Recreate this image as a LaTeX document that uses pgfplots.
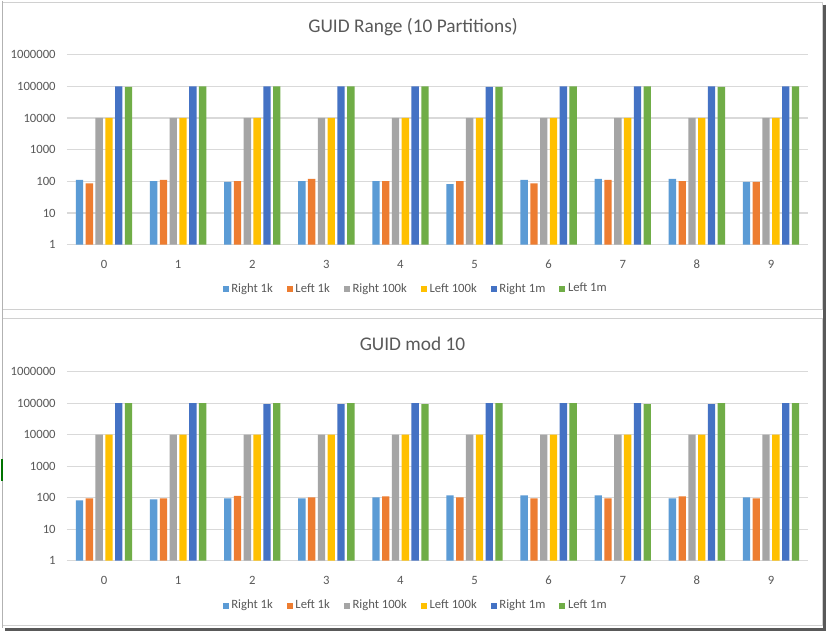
\documentclass[border=0pt]{standalone}
\usepackage{pgfplots}
\pgfplotsset{compat=1.18}
\usepackage{pgfplotstable}
\usepackage{fontspec}
\setmainfont{Carlito}

\definecolor{txt}{HTML}{595959}
\definecolor{gridc}{HTML}{D9D9D9}
\definecolor{frame}{HTML}{D0D0D0}
\definecolor{c1}{HTML}{5B9BD5}
\definecolor{c2}{HTML}{ED7D31}
\definecolor{c3}{HTML}{A5A5A5}
\definecolor{c4}{HTML}{FFC000}
\definecolor{c5}{HTML}{4472C4}
\definecolor{c6}{HTML}{70AD47}

% GUID Range (10 Partitions)
\pgfplotstableread{
x r1k l1k r100k l100k r1m l1m
0 110 86 10000 10000 100000 95000
1 102 110 10000 10000 100000 100000
2 95 102 10000 10000 100000 100000
3 102 118 10000 10000 100000 100000
4 102 102 10000 10000 100000 100000
5 82 102 10000 10000 95000 95000
6 110 86 10000 10000 100000 100000
7 118 110 10000 10000 100000 100000
8 118 102 10000 10000 100000 95000
9 95 95 10000 10000 100000 100000
}\rangedata

% GUID mod 10
\pgfplotstableread{
x r1k l1k r100k l100k r1m l1m
0 82 95 10000 10000 100000 100000
1 88 95 10000 10000 100000 100000
2 95 113 10000 10000 93000 100000
3 95 102 10000 10000 93000 100000
4 102 110 10000 10000 100000 93000
5 118 102 10000 10000 100000 100000
6 118 95 10000 10000 100000 100000
7 118 95 10000 10000 100000 93000
8 95 110 10000 10000 93000 100000
9 102 95 10000 10000 100000 100000
}\moddata

\pgfplotsset{
  guid/.style={
    scale only axis, width=555.75pt, anchor=south west,
    ymin=1, ymax=1000000, xmin=-0.5, xmax=9.5,
    ybar=1.85pt, bar width=5.5pt,
    axis line style={draw=none}, tick style={draw=none},
    ymajorgrids, grid style={gridc, line width=0.9pt},
    ytick={1,10,100,1000,10000,100000,1000000},
    yticklabels={1,10,100,1000,10000,100000,1000000},
    xtick={0,1,2,3,4,5,6,7,8,9},
    xticklabels={0,1,2,3,4,5,6,7,8,9},
    tick label style={font=\fontsize{9.5}{11}\selectfont, text=txt},
    yticklabel style={xshift=-5pt},
    xticklabel style={yshift=-4pt},
    legend columns=6,
    legend style={anchor=center, draw=none, fill=none,
      font=\fontsize{9.5}{11}\selectfont, text=txt,
      /tikz/every even column/.append style={column sep=8.5pt}},
  },
  sq/.style={draw=none, fill=#1,
    legend image code/.code={\fill[#1] (0pt,-2.25pt) rectangle (4.5pt,2.25pt);}},
}

\begin{document}
\begin{tikzpicture}
\begin{scope}[x=0.75pt,y=-0.75pt]
  \fill[white] (0,0) rectangle (827,632);
  % screenshot frame
  \draw[frame, line width=0.9pt] (2.5,1.5) rectangle (822.5,308.7);
  \draw[frame, line width=0.9pt] (2.5,318) rectangle (822.5,625);
  \draw[gray!60, line width=0.9pt] (2.5,0) -- (2.5,627);
  \draw[black!65, line width=2.2pt] (824.5,4) -- (824.5,628.5) -- (5,628.5);
  \fill[green!45!black] (1,458) rectangle (3,480);
  % titles
  \node[text=txt, font=\fontsize{14.5}{17}\selectfont] at (413,26) {GUID Range (10 Partitions)};
  \node[text=txt, font=\fontsize{14.5}{17}\selectfont] at (412.5,343) {GUID mod 10};
\end{scope}

\begin{semilogyaxis}[guid, at={(50.25pt,-183pt)}, height=142.5pt,
  legend style={at={(0.471,-0.2316)}}]
  \addplot[sq=c1] table[x=x, y=r1k] {\rangedata};
  \addlegendentry{Right 1k}
  \addplot[sq=c2] table[x=x, y=l1k] {\rangedata};
  \addlegendentry{Left 1k}
  \addplot[sq=c3] table[x=x, y=r100k] {\rangedata};
  \addlegendentry{Right 100k}
  \addplot[sq=c4] table[x=x, y=l100k] {\rangedata};
  \addlegendentry{Left 100k}
  \addplot[sq=c5] table[x=x, y=r1m] {\rangedata};
  \addlegendentry{Right 1m}
  \addplot[sq=c6] table[x=x, y=l1m] {\rangedata};
  \addlegendentry{Left 1m}
\end{semilogyaxis}

\begin{semilogyaxis}[guid, at={(50.25pt,-420pt)}, height=141.75pt,
  legend style={at={(0.471,-0.238)}}]
  \addplot[sq=c1] table[x=x, y=r1k] {\moddata};
  \addlegendentry{Right 1k}
  \addplot[sq=c2] table[x=x, y=l1k] {\moddata};
  \addlegendentry{Left 1k}
  \addplot[sq=c3] table[x=x, y=r100k] {\moddata};
  \addlegendentry{Right 100k}
  \addplot[sq=c4] table[x=x, y=l100k] {\moddata};
  \addlegendentry{Left 100k}
  \addplot[sq=c5] table[x=x, y=r1m] {\moddata};
  \addlegendentry{Right 1m}
  \addplot[sq=c6] table[x=x, y=l1m] {\moddata};
  \addlegendentry{Left 1m}
\end{semilogyaxis}
\end{tikzpicture}
\end{document}
